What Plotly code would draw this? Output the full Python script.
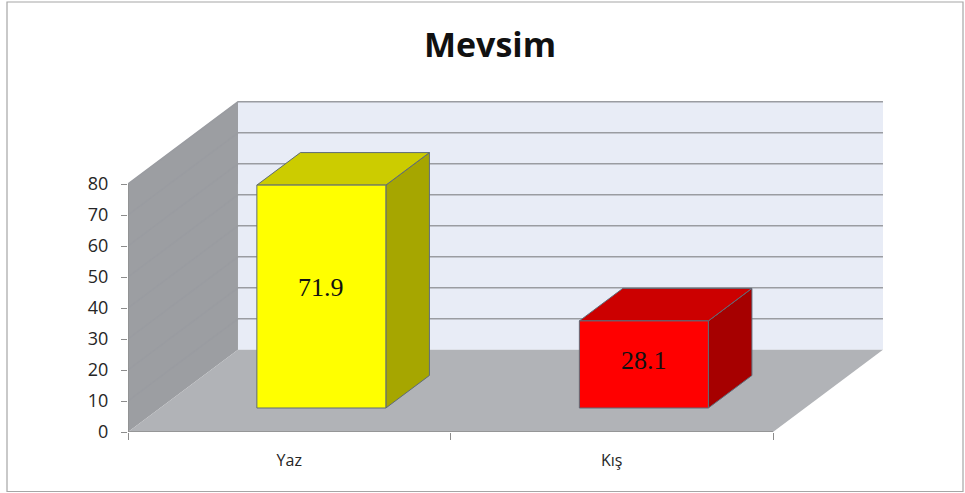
import plotly.graph_objects as go

# Chart data
categories = ["Yaz", "Kış"]
values = [71.9, 28.1]
y_ticks = [0, 10, 20, 30, 40, 50, 60, 70, 80]

# Colour scheme per bar: front, top, side
front_colors = ["#ffff00", "#ff0000"]
top_colors = ["#cccc00", "#cc0000"]
side_colors = ["#a6a600", "#a60000"]

# Pseudo-3D projection (depth axis expressed in data units)
DX = 0.341      # horizontal shift of the back plane, in category units
DY = 26.5       # vertical shift of the back plane, in value units
F0 = 0.292      # depth fraction of the bar front faces
F1 = 0.688      # depth fraction of the bar back faces
BAR_W = 0.40    # bar width, in category units
Y_MAX = max(y_ticks)
N = len(categories)

WALL_BACK = "#e8ecf6"
WALL_LEFT = "#9c9ea2"
FLOOR = "#b1b3b7"
GRID = "#9a9ca1"
AXIS = "#8c8c8c"
EDGE = "#5e6b78"

fig = go.Figure()


def poly(xs, ys, fill, line_color=None, width=0):
    fig.add_trace(go.Scatter(
        x=xs + [xs[0]], y=ys + [ys[0]], mode="lines", fill="toself",
        fillcolor=fill,
        line=dict(color=line_color or fill, width=width),
        hoverinfo="skip", showlegend=False))


def seg(xs, ys, color, width):
    fig.add_trace(go.Scatter(
        x=xs, y=ys, mode="lines", line=dict(color=color, width=width),
        hoverinfo="skip", showlegend=False))


# Back wall
poly([DX, N + DX, N + DX, DX], [DY, DY, Y_MAX + DY, Y_MAX + DY], WALL_BACK)
# Left wall
poly([0, DX, DX, 0], [0, DY, Y_MAX + DY, Y_MAX], WALL_LEFT)
# Gridlines on back and left walls
for v in y_ticks[1:]:
    seg([0, DX, N + DX], [v, v + DY, v + DY], GRID, 1.5)
# Floor
poly([0, N, N + DX, DX], [0, 0, DY, DY], FLOOR)

# Axis lines along the front edges
seg([0, 0], [0, Y_MAX], AXIS, 1.2)
seg([0, N], [0, 0], AXIS, 1.5)

# Bars
for i, (v, fc, tc, sc) in enumerate(zip(values, front_colors, top_colors, side_colors)):
    xl = i + 0.5 - BAR_W / 2
    xr = i + 0.5 + BAR_W / 2
    x0l, x0r, y0 = xl + F0 * DX, xr + F0 * DX, F0 * DY
    x1l, x1r, y1 = xl + F1 * DX, xr + F1 * DX, F1 * DY
    # side face
    poly([x0r, x1r, x1r, x0r], [y0, y1, v + y1, v + y0], sc, EDGE, 1)
    # top face
    poly([x0l, x0r, x1r, x1l], [v + y0, v + y0, v + y1, v + y1], tc, EDGE, 1)
    # front face
    poly([x0l, x0r, x0r, x0l], [y0, y0, v + y0, v + y0], fc, EDGE, 1)
    fig.add_annotation(
        x=i + 0.5 + F0 * DX, y=v * 0.54 + y0, text=f"{v:.1f}",
        showarrow=False, xanchor="center", yanchor="middle",
        font=dict(family="Liberation Serif", size=26, color="#111111"))

# Geometry of the figure in pixels
W, H = 965, 493
L, R, T, B = 128, 80, 100, 61
px_per_cat = 322.5
px_per_val = 3.1
x_span = (W - L - R) / px_per_cat
y_span = (H - T - B) / px_per_val

fig.update_layout(
    width=W, height=H,
    margin=dict(l=L, r=R, t=T, b=B),
    paper_bgcolor="white", plot_bgcolor="rgba(0,0,0,0)",
    title=dict(text="<b>Mevsim</b>", x=490 / W, xanchor="center",
               y=1 - 45 / H, yanchor="middle", yref="container",
               font=dict(family="Open Sans", size=34, color="#111111")),
    xaxis=dict(range=[0, x_span], showgrid=False, zeroline=False,
               showline=False, tickmode="array",
               tickvals=[i + 0.5 for i in range(N)], ticktext=categories,
               ticks="", ticklabelstandoff=17,
               tickfont=dict(family="Open Sans", size=16, color="#262626"),
               minor=dict(tickmode="array", tickvals=list(range(N + 1)),
                          ticks="outside", ticklen=7, tickcolor=AXIS,
                          tickwidth=1.2, showgrid=False),
               fixedrange=True),
    yaxis=dict(range=[0, y_span], showgrid=False, zeroline=False,
               showline=False, tickmode="array", tickvals=y_ticks,
               ticks="outside", ticklen=6, tickcolor=AXIS, tickwidth=1.2,
               ticklabelstandoff=9,
               tickfont=dict(family="Open Sans", size=18, color="#262626"),
               fixedrange=True),
    shapes=[dict(type="rect", xref="paper", yref="paper",
                 x0=(7 - L) / (W - L - R), x1=(963 - L) / (W - L - R),
                 y0=(H - B - 491.5) / (H - T - B), y1=(H - B - 2) / (H - T - B),
                 line=dict(color="#a6a6a6", width=1.2), layer="below")],
)

fig.write_html("out.html")
